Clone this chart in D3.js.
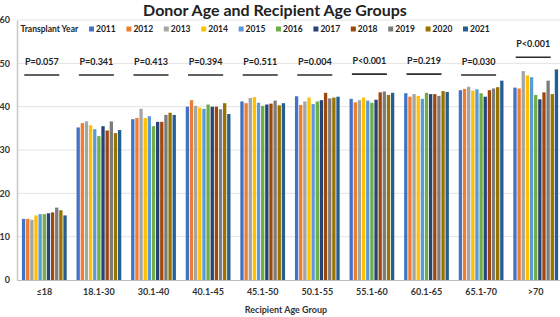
<!DOCTYPE html>
<html>
<head>
<meta charset="utf-8">
<script src="https://cdn.jsdelivr.net/npm/d3@7"></script>
<style>
  html, body { margin: 0; padding: 0; background: #fff; }
  svg { display: block; font-family: Lato, "Open Sans", sans-serif; }
</style>
</head>
<body>
<svg id="chart" width="560" height="317"></svg>
<script>
// recipient age groups on the x axis
var groups = ['≤18', '18.1-30', '30.1-40', '40.1-45', '45.1-50', '50.1-55', '55.1-60', '60.1-65', '65.1-70', '>70'];
var years = ['2011', '2012', '2013', '2014', '2015', '2016', '2017', '2018', '2019', '2020', '2021'];
var colors = ['#4472C4', '#ED7D31', '#A5A5A5', '#FFC000', '#5B9BD5', '#70AD47', '#264478', '#9E480E', '#7C7C7C', '#997300', '#255E91'];

// mean donor age, one row per age group, one value per year
var age18 = [14.1, 14.1, 13.9, 14.9, 15.2, 15.2, 15.4, 15.6, 16.7, 16.1, 14.9];
var age30 = [35.2, 36.2, 36.6, 35.7, 34.8, 33.2, 35.5, 34.5, 36.6, 33.9, 34.6];
var age40 = [37.1, 37.4, 39.5, 37.4, 37.8, 35.5, 36.5, 36.5, 38.1, 38.6, 38.1];
var age45 = [40.0, 41.5, 40.2, 39.8, 39.5, 40.5, 40.0, 40.0, 39.4, 40.8, 38.3];
var age50 = [41.2, 40.8, 42.0, 42.2, 40.9, 40.2, 40.5, 40.7, 41.4, 40.3, 40.8];
var age55 = [42.4, 40.4, 41.2, 42.1, 40.6, 41.2, 41.5, 43.2, 41.9, 42.1, 42.3];
var age60 = [41.8, 41.0, 41.5, 42.1, 41.4, 40.9, 41.6, 43.3, 43.5, 42.7, 43.2];
var age65 = [43.1, 42.3, 42.9, 42.5, 41.8, 43.2, 42.9, 42.9, 42.5, 43.6, 43.4];
var age70 = [43.8, 44.1, 44.6, 43.7, 44.0, 43.1, 42.3, 43.8, 44.2, 44.5, 46.0];
var ageOver70 = [44.4, 44.2, 48.2, 47.2, 46.8, 42.7, 41.7, 43.3, 46.0, 42.9, 48.6];
var values = [age18, age30, age40, age45, age50, age55, age60, age65, age70, ageOver70];

// p-values and the height (in years) of the bracket line over each group
var pValues = ['P=0.057', 'P=0.341', 'P=0.413', 'P=0.394', 'P=0.511', 'P=0.004', 'P<0.001', 'P=0.219', 'P=0.030', 'P<0.001'];
var pLevels = [47.3, 47.3, 47.3, 47.3, 47.3, 47.3, 47.5, 47.5, 47.3, 51.4];

var yTicks = [0, 10, 20, 30, 40, 50, 60];

var svg = d3.select('#chart');

var x0 = d3.scaleBand().domain(groups).range([17, 563]).paddingInner(0.15).paddingOuter(0.075);
var x1 = d3.scaleBand().domain(years).range([0, x0.bandwidth()]).padding(0.2);
var y = d3.scaleLinear().domain([0, 60]).range([280, 20]);
var color = d3.scaleOrdinal().domain(years).range(colors);

// gridlines
svg.append('g').selectAll('line').data(yTicks.filter(function(d) { return d > 0; }))
  .enter().append('line')
  .attr('x1', 17).attr('x2', 560)
  .attr('y1', function(d) { return y(d); })
  .attr('y2', function(d) { return y(d); })
  .attr('stroke', '#e3e3e3').attr('stroke-width', 1);

// y axis
var yAxis = svg.append('g').attr('transform', 'translate(17,0)')
  .call(d3.axisLeft(y).tickValues(yTicks).tickSize(0).tickPadding(7));
yAxis.select('.domain').attr('stroke', '#c8c8c8').attr('stroke-width', 1.5);
yAxis.selectAll('text').attr('font-size', 9).attr('font-weight', 'bold').attr('fill', '#333')
  .style('font-family', 'Lato, sans-serif');

// bars
svg.append('g').selectAll('g').data(values)
  .enter().append('g')
  .attr('transform', function(d, i) { return 'translate(' + x0(groups[i]) + ',0)'; })
  .selectAll('rect').data(function(d) { return d.map(function(v, j) { return { year: years[j], value: v }; }); })
  .enter().append('rect')
  .attr('x', function(d) { return x1(d.year); })
  .attr('width', x1.bandwidth())
  .attr('y', function(d) { return y(d.value); })
  .attr('height', function(d) { return y(0) - y(d.value); })
  .attr('fill', function(d) { return color(d.year); });

// x axis
var xAxis = svg.append('g').attr('transform', 'translate(0,280)')
  .call(d3.axisBottom(x0).tickSize(0).tickPadding(9));
xAxis.select('.domain').attr('stroke', '#bdbdbd').attr('stroke-width', 1.2);
xAxis.selectAll('text').attr('font-size', 9).attr('font-weight', 'bold').attr('fill', '#333')
  .style('font-family', 'Lato, sans-serif');

// p-value brackets
var pg = svg.append('g').selectAll('g').data(pValues)
  .enter().append('g')
  .attr('transform', function(d, i) {
    return 'translate(' + (x0(groups[i]) + x0.bandwidth() / 2 - 2.5) + ',' + y(pLevels[i]) + ')';
  });
pg.append('line')
  .attr('x1', -17.5).attr('x2', 17.5)
  .attr('stroke', '#2b2b2b').attr('stroke-width', 1.6);
pg.append('text')
  .attr('y', -10)
  .attr('text-anchor', 'middle')
  .attr('font-size', 9).attr('font-weight', 'bold').attr('fill', '#222')
  .text(function(d) { return d; });

// title
svg.append('text')
  .attr('x', 275).attr('y', 15.5)
  .attr('text-anchor', 'middle')
  .attr('font-size', 16).attr('font-weight', 'bold').attr('fill', '#222')
  .text('Donor Age and Recipient Age Groups');

// x axis title
svg.append('text')
  .attr('x', 286).attr('y', 313)
  .attr('text-anchor', 'middle')
  .attr('font-size', 9).attr('font-weight', 'bold').attr('fill', '#333')
  .text('Recipient Age Group');

// legend
var legend = svg.append('g');
legend.append('text')
  .attr('x', 20.5).attr('y', 32)
  .attr('font-size', 8.5).attr('font-weight', 'bold').attr('fill', '#222')
  .text('Transplant Year');

var item = legend.selectAll('g.item').data(years)
  .enter().append('g').attr('class', 'item')
  .attr('transform', function(d, i) { return 'translate(' + (89 + i * 37.4) + ',26.5)'; });
item.append('rect').attr('width', 5).attr('height', 5)
  .attr('fill', function(d) { return color(d); });
item.append('text').attr('x', 7).attr('y', 5.5)
  .attr('font-size', 8.5).attr('font-weight', 'bold').attr('fill', '#222')
  .text(function(d) { return d; });
</script>
</body>
</html>
